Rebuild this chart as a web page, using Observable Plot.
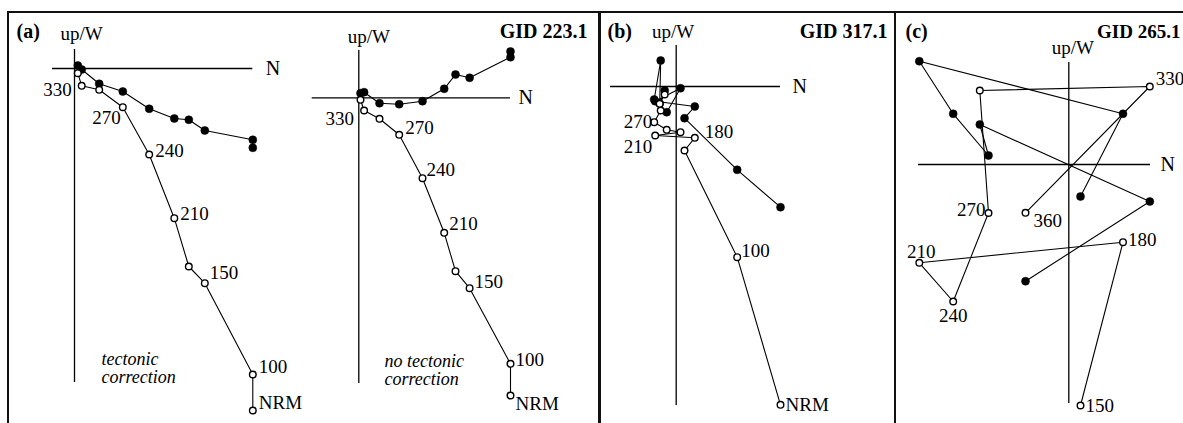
<!DOCTYPE html>
<html><head><meta charset="utf-8">
<script src="https://cdn.jsdelivr.net/npm/d3@7"></script>
<script src="https://cdn.jsdelivr.net/npm/@observablehq/plot@0.6"></script>
<style>
html,body{margin:0;padding:0;background:#fff;}
#chart{position:relative;width:1183px;height:423px;overflow:hidden;background:#fff;}
.sub{position:absolute;top:0;}
.rule{position:absolute;background:#111;}
</style></head><body><div id="chart"></div>
<script>
// ---------------- DATA (magnetisation components, arbitrary units) ----------------
// Panel (a) GID 223.1, tectonic correction
const a1Steps = ["NRM","100","150","180","210","240","270","300","330","360"];
const a1North = [178.3,178.3,130.3,114.3,99.8,74.7,48.3,24.7,7.2,3.3];
const a1West  = [-79.3,-71.3,-62,-51.3,-50,-40.3,-23,-15.3,-1,3];
const a1Up    = [-342,-306,-214.7,-198,-149.7,-86,-38.7,-21.3,-17.3,-4.7];
// Panel (a) GID 223.1, no tectonic correction
const a2Steps = ["NRM","100","150","180","210","240","270","300","330","360"];
const a2North = [151.7,151.7,110.8,96.7,85.4,63.7,40.4,20.7,5.3,1.7];
const a2West  = [46.3,40.6,20,23.3,9,-3.4,-6.4,-5.4,5.6,4.6];
const a2Up    = [-297.7,-266,-190.4,-173.4,-135,-80.4,-37,-21,-12.7,-2];
// Panel (b) GID 317.1
const bSteps = ["NRM","100","150","180","210","240","250","270","300","330","360"];
const bNorth = [104.3,61,8.3,18.6,-21,4.3,-9.5,-22,-15.5,-16.5,-11.5];
const bWest  = [-120.7,-83.3,-31.7,-20,-14.7,-1.7,-25.7,-13,26,-17,-4];
const bUp    = [-318.3,-170.7,-64,-51.3,-49,-45.7,-43.3,-35.7,-24,-17.3,-8];
// Panel (c) GID 265.1
const cSteps = ["150","180","210","240","270","300","330","360"];
const cNorth = [11.7,54.2,-149.5,-115.6,-80.3,-89,81,-43.3];
const cWest  = [-32,50.7,103.3,50.7,9,40,-37,-116.7];
const cUp    = [-241,-77.7,-98.3,-137,-48.5,74,78,-48.3];

// ---------------- LAYOUT / STYLE ----------------
const FONT = '"Liberation Serif", "Times New Roman", serif';
const H = 423;
const panels = [
  {steps:a1Steps, N:a1North, W:a1West, U:a1Up, left:9, width:290, ox:74, oy:68,
   hAxis:[-22,178.3], vAxis:[19,-314], nDx:13, upDx:7, upDy:-16,
   labels:[["330",-10,4,"end"],["270",-2,11,"end"],["240",6,-4,"start"],["210",6,-4,"start"],
           ["150",5,-10,"start"],["100",6,-8,"start"],["NRM",6,-8,"start"]],
   corner:[["(a)","top-left",7,31,"start","bold",20]],
   note:{text:"tectonic\ncorrection", dx:92, dy:367.5}},
  {steps:a2Steps, N:a2North, W:a2West, U:a2Up, left:299, width:298, ox:358.3, oy:97.3,
   hAxis:[-46.6,151.7], vAxis:[47.3,-285.7], nDx:8, upDx:10, upDy:-14,
   labels:[["330",-10,8,"end"],["270",6,-7,"start"],["240",4,-8,"start"],["210",5,-9,"start"],
           ["150",5,-6,"start"],["100",5,-4,"start"],["NRM",5,8,"start"]],
   corner:[["GID 223.1","top-right",-10,31,"end","bold",20]],
   note:{text:"no tectonic\ncorrection", dx:85, dy:369.5}},
  {steps:bSteps, N:bNorth, W:bWest, U:bUp, left:600, width:294, ox:675.7, oy:86,
   hAxis:[-65.7,104.3], vAxis:[41,-319], nDx:12, upDx:-3, upDy:-14,
   labels:[["270",-2,0,"end"],["210",-3,11,"end"],["180",10,-6,"start"],
           ["100",4,-6,"start"],["NRM",5,0,"start"]],
   corner:[["(b)","top-left",7,31,"start","bold",20],["GID 317.1","top-right",-7,31,"end","bold",20]]},
  {steps:cSteps, N:cNorth, W:cWest, U:cUp, left:896, width:287, ox:1068.3, oy:164,
   hAxis:[-150.3,81.7], vAxis:[102,-239], nDx:10, upDx:4, upDy:-15,
   labels:[["330",6,-8,"start"],["360",8,8,"start"],["270",-3,-3,"end"],["210",2,-11,"middle"],
           ["240",0,14,"middle"],["180",5,-2,"start"],["150",5,0,"start"]],
   corner:[["(c)","top-left",9,31,"start","bold",20],["GID 265.1","top-right",-3,31,"end","bold",19]]}
];

function zijderveld(p) {
  const rows = p.steps.map((s, i) => ({step: s, n: p.N[i], w: p.W[i], u: p.U[i]}));
  const marks = [
    Plot.ruleY([{y: 0, x1: p.hAxis[0], x2: p.hAxis[1]}], {y: "y", x1: "x1", x2: "x2", stroke: "#000", strokeWidth: 1.3}),
    Plot.ruleX([{x: 0, y1: p.vAxis[0], y2: p.vAxis[1]}], {x: "x", y1: "y1", y2: "y2", stroke: "#000", strokeWidth: 1.3}),
    Plot.text([{x: p.hAxis[1], y: 0}], {x: "x", y: "y", text: () => "N", dx: p.nDx, textAnchor: "start", fontSize: 20}),
    Plot.text([{x: 0, y: p.vAxis[0]}], {x: "x", y: "y", text: () => "up/W", dx: p.upDx, dy: p.upDy, textAnchor: "middle", fontSize: 19}),
    Plot.line(rows, {x: "n", y: "w", stroke: "#000", strokeWidth: 1.1}),
    Plot.line(rows, {x: "n", y: "u", stroke: "#000", strokeWidth: 1.1}),
    Plot.dot(rows, {x: "n", y: "w", r: 4, fill: "#000", stroke: "#000", strokeWidth: 0.5}),
    Plot.dot(rows, {x: "n", y: "u", r: 3.3, fill: "#fff", stroke: "#000", strokeWidth: 1.4})
  ];
  for (const [step, dx, dy, anchor] of p.labels) {
    marks.push(Plot.text(rows.filter(d => d.step === step), {x: "n", y: "u", text: "step", dx, dy, textAnchor: anchor, fontSize: 19}));
  }
  for (const [t, fa, dx, dy, anchor, weight, fs] of p.corner) {
    marks.push(Plot.text([t], {text: d => d, frameAnchor: fa, dx, dy, textAnchor: anchor, lineAnchor: "middle", fontWeight: weight, fontSize: fs}));
  }
  if (p.note) {
    marks.push(Plot.text([p.note.text], {text: d => d, frameAnchor: "top-left", dx: p.note.dx, dy: p.note.dy,
      textAnchor: "start", lineAnchor: "middle", lineHeight: 1.0, fontStyle: "italic", fontSize: 18}));
  }
  return Plot.plot({
    width: p.width, height: H, margin: 0,
    x: {domain: [p.left - p.ox, p.left + p.width - p.ox], range: [0, p.width], axis: null},
    y: {domain: [p.oy - H, p.oy], range: [H, 0], axis: null},
    style: {fontFamily: FONT, color: "#000", background: "transparent", overflow: "visible"},
    marks
  });
}

const chart = document.getElementById("chart");
for (const p of panels) {
  const svg = zijderveld(p);
  svg.classList.add("sub");
  svg.style.left = p.left + "px";
  svg.style.maxWidth = "none";
  chart.appendChild(svg);
}
// frame lines
const frame = [[7,11,1176,2],[7,11,2,412],[598,11,2.5,412],[894,11,2,412]];
for (const [l,t,w,h] of frame) {
  const d = document.createElement("div");
  d.className = "rule";
  Object.assign(d.style, {left: l + "px", top: t + "px", width: w + "px", height: h + "px"});
  chart.appendChild(d);
}
</script></body></html>
